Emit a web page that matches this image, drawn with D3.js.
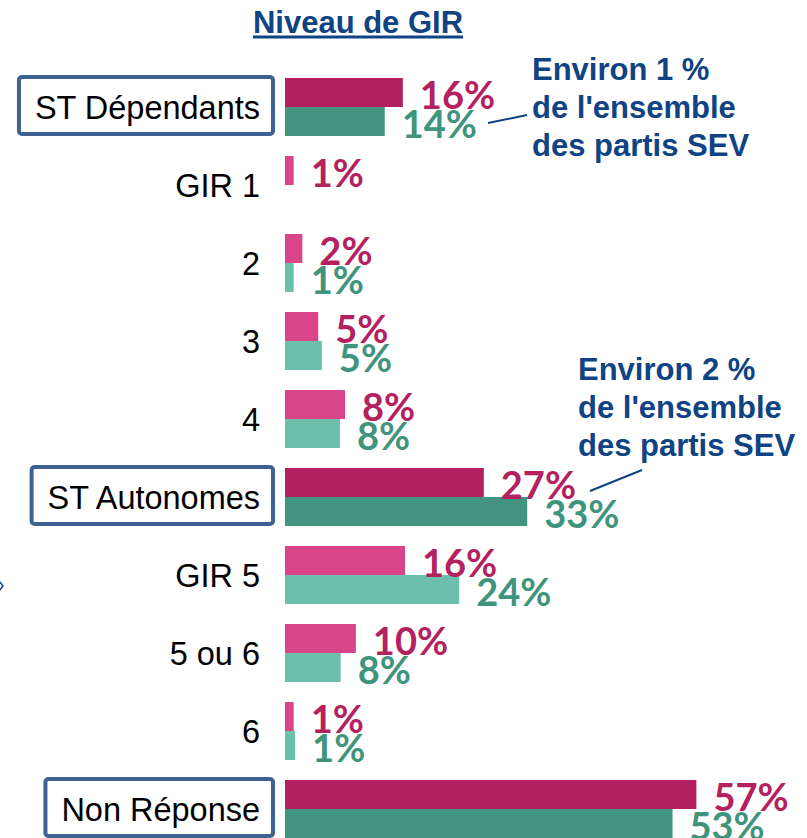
<!DOCTYPE html>
<html><head><meta charset="utf-8">
<script src="https://cdn.jsdelivr.net/npm/d3@7"></script>
<style>
html,body{margin:0;padding:0;background:#fff;}
svg{display:block;}
</style></head>
<body>
<svg id="chart" width="807" height="838"></svg>
<script>
// ---- data ----
const categories = ["ST Dépendants","GIR 1","2","3","4","ST Autonomes","GIR 5","5 ou 6","6","Non Réponse"];
const summaryRows = ["ST Dépendants","ST Autonomes","Non Réponse"];
const seriesA = [16.3, 1.2, 2.4, 4.6, 8.3, 27.5, 16.6, 9.8, 1.2, 56.9];   // magenta
const seriesB = [13.8, null, 1.2, 5.1, 7.6, 33.5, 24.1, 7.7, 1.4, 53.6]; // green
const labelsA = ["16%","1%","2%","5%","8%","27%","16%","10%","1%","57%"];
const labelsB = ["14%","","1%","5%","8%","33%","24%","8%","1%","53%"];
const title = "Niveau de GIR";
const note1 = ["Environ 1 %","de l'ensemble","des partis SEV"];
const note2 = ["Environ 2 %","de l'ensemble","des partis SEV"];

// ---- layout ----
const svg = d3.select("#chart");
const x0 = 285;
const x = d3.scaleLinear().domain([0, 100]).range([x0, x0 + 723]);
const y = d3.scaleBand().domain(categories).range([78, 838]).paddingInner(0.2564).paddingOuter(0);
const half = y.bandwidth() / 2;

const col = {
  aDark: "#B22060", aLight: "#DA4589",
  bDark: "#42947E", bLight: "#6CC0AB",
  aText: "#B3215F", bText: "#3F947C",
  blue: "#0F4383", box: "#3D6190"
};
const isSum = c => summaryRows.includes(c);

// title
const t = svg.append("text")
  .attr("x", 358).attr("y", 33)
  .attr("text-anchor", "middle")
  .attr("font-family", "Liberation Sans, Arial, sans-serif")
  .attr("font-weight", "bold").attr("font-size", 31)
  .attr("fill", col.blue).text(title);
const tb = t.node().getBBox();
svg.append("rect").attr("x", tb.x).attr("y", 35.5).attr("width", tb.width).attr("height", 3).attr("fill", col.blue);

// bars
const rows = categories.map((c, i) => ({c, a: seriesA[i], b: seriesB[i], la: labelsA[i], lb: labelsB[i]}));

const g = svg.append("g");
rows.forEach(d => {
  const top = y(d.c);
  if (d.a != null) {
    g.append("rect").attr("x", x(0)).attr("y", top).attr("width", x(d.a) - x(0)).attr("height", half)
      .attr("fill", isSum(d.c) ? col.aDark : col.aLight);
  }
  if (d.b != null) {
    g.append("rect").attr("x", x(0)).attr("y", top + half).attr("width", x(d.b) - x(0)).attr("height", half)
      .attr("fill", isSum(d.c) ? col.bDark : col.bLight);
  }
});

// value labels
const vfont = "Lato, 'Open Sans', sans-serif";
rows.forEach(d => {
  const top = y(d.c);
  if (d.a != null && d.la) {
    svg.append("text").attr("x", x(d.a) + 17).attr("y", top + half + 2)
      .attr("font-family", vfont).attr("font-weight", 700).attr("font-size", 38)
      .attr("fill", col.aText).text(d.la);
  }
  if (d.b != null && d.lb) {
    svg.append("text").attr("x", x(d.b) + 17).attr("y", top + 2 * half + 2)
      .attr("font-family", vfont).attr("font-weight", 700).attr("font-size", 38)
      .attr("fill", col.bText).text(d.lb);
  }
});

// category labels
const cfont = "'Liberation Sans', Arial, sans-serif";
rows.forEach(d => {
  const cy = y(d.c) + half;
  const tx = svg.append("text").attr("x", 260).attr("y", cy + 12)
    .attr("text-anchor", "end")
    .attr("font-family", cfont).attr("font-size", 34)
    .attr("fill", "#000").text(d.c);
  const w = tx.node().getComputedTextLength();
  tx.attr("textLength", w * 0.955).attr("lengthAdjust", "spacingAndGlyphs");
  if (isSum(d.c)) {
    const bb = tx.node().getBBox();
    svg.insert("rect", "text")
      .attr("x", bb.x - 16).attr("y", y(d.c) - 1)
      .attr("width", 273 - (bb.x - 16)).attr("height", y.bandwidth() - 1)
      .attr("rx", 3).attr("fill", "#fff")
      .attr("stroke", col.box).attr("stroke-width", 4);
  }
});

// annotations
function note(lines, xx, y0) {
  const tt = svg.append("text").attr("font-family", "Liberation Sans, Arial, sans-serif")
    .attr("font-weight", "bold").attr("font-size", 31).attr("fill", col.blue);
  lines.forEach((l, i) => tt.append("tspan").attr("x", xx).attr("y", y0 + i * 38).text(l));
}
note(note1, 532, 80);
note(note2, 578, 380);
svg.append("line").attr("x1", 488).attr("y1", 123).attr("x2", 527).attr("y2", 115)
  .attr("stroke", col.blue).attr("stroke-width", 2);
svg.append("line").attr("x1", 590).attr("y1", 491).attr("x2", 642).attr("y2", 470)
  .attr("stroke", col.blue).attr("stroke-width", 2);
// small stray mark at left edge
svg.append("path").attr("d", "M0,582 L3,586 L0,590").attr("fill", "none")
  .attr("stroke", col.blue).attr("stroke-width", 1.5);
</script>
</body></html>
